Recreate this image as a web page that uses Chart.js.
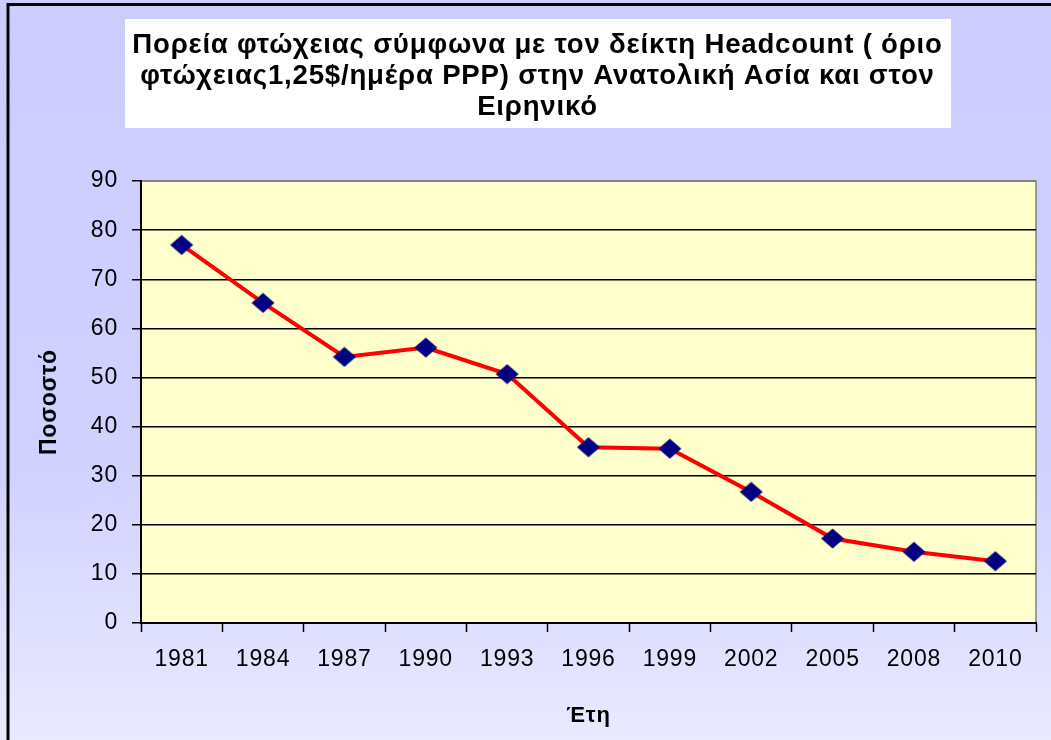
<!DOCTYPE html>
<html>
<head>
<meta charset="utf-8">
<script src="https://cdn.jsdelivr.net/npm/chart.js@4/dist/chart.umd.min.js"></script>
<style>
    html, body { margin: 0; padding: 0; background: #fff; }
    #wrap { width: 1051px; height: 740px; }
</style>
</head>
<body>
<div id="wrap"><canvas id="povertyChart" width="1051" height="740"></canvas></div>
<script>
// Chart data
const years = ["1981", "1984", "1987", "1990", "1993", "1996", "1999", "2002", "2005", "2008", "2010"];
const headcount = [77.0, 65.2, 54.2, 56.1, 50.7, 35.8, 35.5, 26.7, 17.2, 14.5, 12.6];
const titleLines = [
    "Πορεία φτώχειας σύμφωνα με τον δείκτη Headcount ( όριο",
    "φτώχειας1,25$/ημέρα PPP) στην Ανατολική Ασία και στον",
    "Ειρηνικό",
];
const yAxisTitle = "Ποσοστό";
const xAxisTitle = "Έτη";

const FONT = "'Liberation Sans', Arial, sans-serif";

// Diamond marker (a bit wider than tall, like Excel)
function makeDiamond() {
    const c = document.createElement("canvas");
    c.width = 24;
    c.height = 21;
    const g = c.getContext("2d");
    g.fillStyle = "#000080";
    g.beginPath();
    g.moveTo(12, 0.5);
    g.lineTo(23.5, 10.5);
    g.lineTo(12, 20.5);
    g.lineTo(0.5, 10.5);
    g.closePath();
    g.fill();
    return c;
}

// The original picture is stretched sideways, so widen text a little
const wideText = {
    id: "wideText",
    beforeUpdate(chart) {
        chart.ctx.letterSpacing = "0.8px";
    },
    afterLayout(chart) {
        // center the title inside its white box
        const t = chart.titleBlock;
        if (t) {
            t.left = 28;
            t.width = t.right - t.left;
        }
    },
};

// Background, frame, title box, plot fill
const backdrop = {
    id: "backdrop",
    beforeDraw(chart) {
        const ctx = chart.ctx;
        const { left, top, right, bottom } = chart.chartArea;
        ctx.save();
        const grad = ctx.createLinearGradient(0, 0, 0, chart.height + 120);
        grad.addColorStop(0, "#CCCCFF");
        grad.addColorStop(0.55, "#D2D2FF");
        grad.addColorStop(1, "#F4F4FF");
        ctx.fillStyle = grad;
        ctx.fillRect(0, 0, chart.width, chart.height);

        // outer frame (only left and top are visible)
        ctx.strokeStyle = "#000";
        ctx.lineWidth = 3;
        ctx.beginPath();
        ctx.moveTo(8, chart.height + 5);
        ctx.lineTo(8, 4.5);
        ctx.lineTo(chart.width + 5, 4.5);
        ctx.stroke();

        // white title box
        ctx.fillStyle = "#fff";
        ctx.fillRect(125, 19, 826, 109);

        // plot area
        ctx.fillStyle = "#FFFFCC";
        ctx.fillRect(left, top, right - left, bottom - top);
        ctx.strokeStyle = "#808080";
        ctx.lineWidth = 1.5;
        ctx.strokeRect(left, top, right - left, bottom - top);
        ctx.restore();
    },
};

const ctx = document.getElementById("povertyChart");
new Chart(ctx, {
    type: "line",
    data: {
        labels: years,
        datasets: [
            {
                label: yAxisTitle,
                data: headcount,
                borderColor: "#FF0000",
                borderWidth: 4,
                tension: 0,
                fill: false,
                pointStyle: makeDiamond(),
                pointRadius: 11,
            },
        ],
    },
    options: {
        responsive: false,
        animation: false,
        layout: { padding: { top: 30, left: 10, right: 4, bottom: 0 } },
        plugins: {
            legend: { display: false },
            tooltip: { enabled: false },
            title: {
                display: true,
                text: titleLines,
                color: "#000",
                font: { family: FONT, size: 27.6, weight: "bold", lineHeight: 1.125 },
                padding: { top: 0, bottom: 58 },
            },
        },
        scales: {
            x: {
                offset: true,
                afterFit: (s) => { s.height = 117; },
                grid: {
                    offset: true,
                    drawOnChartArea: false,
                    drawTicks: true,
                    tickLength: 9,
                    tickColor: "#000",
                    tickWidth: 1.5,
                },
                border: { display: true, color: "#000", width: 2 },
                ticks: {
                    color: "#000",
                    padding: 14,
                    maxRotation: 0,
                    autoSkip: false,
                    font: { family: FONT, size: 23 },
                },
                title: {
                    display: true,
                    text: xAxisTitle,
                    color: "#000",
                    font: { family: FONT, size: 22, weight: "bold" },
                    padding: { top: 0, bottom: 11 },
                },
            },
            y: {
                min: 0,
                max: 90,
                afterFit: (s) => { s.width = 131; },
                grid: {
                    color: (c) => (c.tick && c.tick.value === 90 ? "#808080" : "#000"),
                    lineWidth: 1.5,
                    drawTicks: true,
                    tickLength: 9,
                    tickColor: "#000",
                    tickWidth: 1.5,
                },
                border: { display: true, color: "#000", width: 2 },
                ticks: {
                    stepSize: 10,
                    color: "#000",
                    padding: 14,
                    font: { family: FONT, size: 23 },
                },
                title: {
                    display: true,
                    text: yAxisTitle,
                    color: "#000",
                    font: { family: FONT, size: 23, weight: "bold" },
                    padding: { top: 26, bottom: 0 },
                },
            },
        },
    },
    plugins: [wideText, backdrop],
});
</script>
</body>
</html>
